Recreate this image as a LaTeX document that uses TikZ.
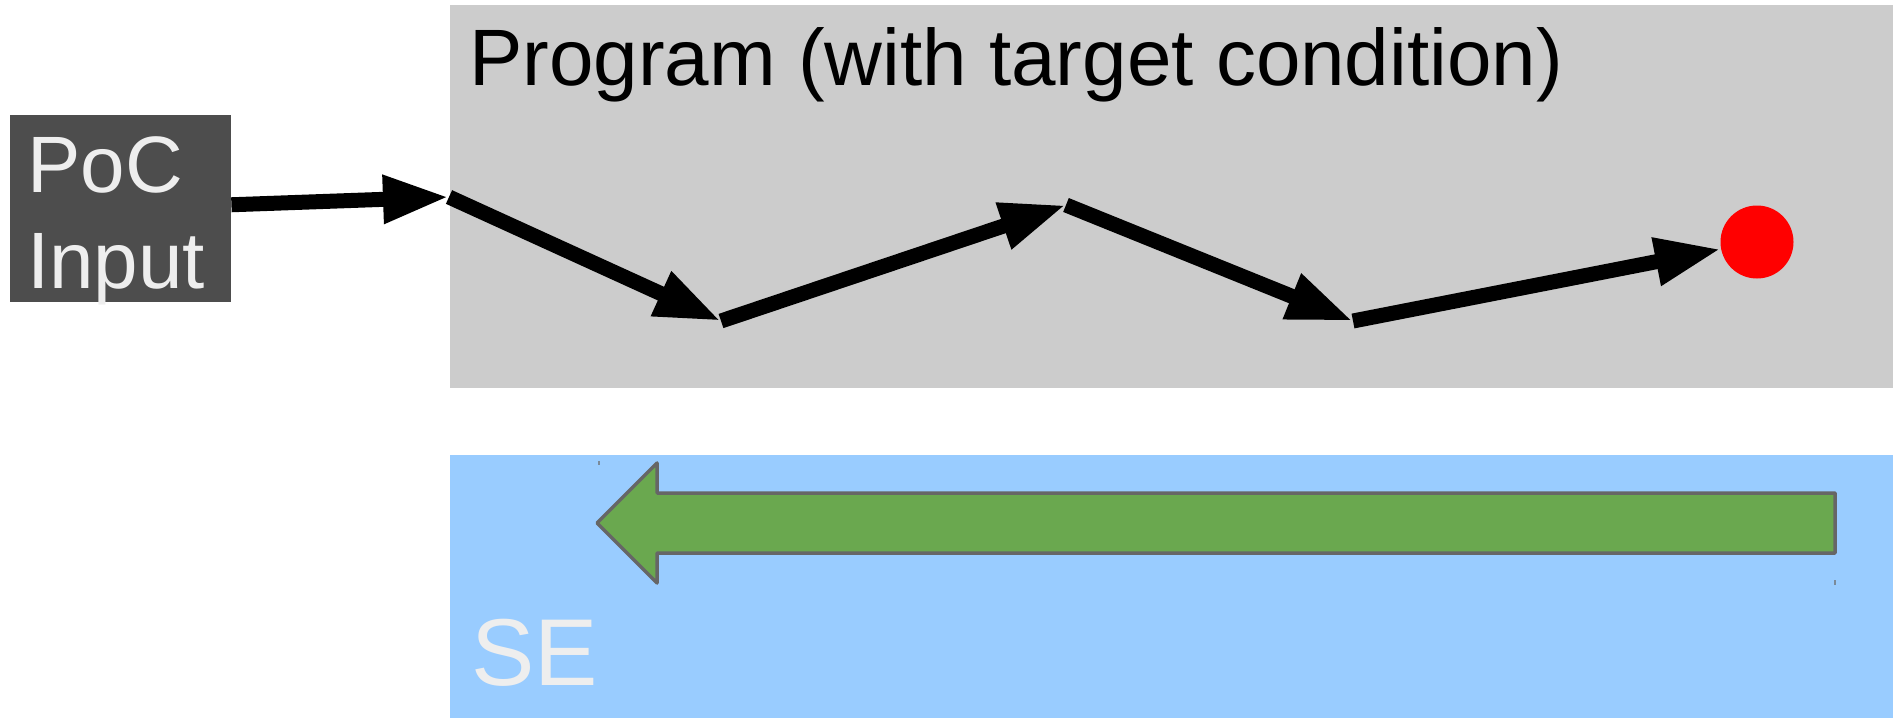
\documentclass[tikz,border=0pt]{standalone}
\usepackage{fontspec}
\setmainfont{Liberation Sans}
\usetikzlibrary{arrows.meta}

\definecolor{progfill}{HTML}{CCCCCC}
\definecolor{sefill}{HTML}{99CCFF}
\definecolor{pocfill}{HTML}{4D4D4D}
\definecolor{lighttext}{HTML}{EEEEEE}
\definecolor{backfill}{HTML}{6AA84F}
\definecolor{backline}{HTML}{666666}
\definecolor{marker}{HTML}{7A8A9A}

\tikzset{
  panel/.style={draw=none, rectangle, inner sep=0pt, anchor=north west},
  label/.style={inner sep=0pt, anchor=base west},
  flow/.style={line width=15pt, -{Triangle[length=66pt,width=45pt]}},
  goal/.style={circle, fill=red, draw=none, minimum size=73pt, inner sep=0pt},
  backarrow/.style={fill=backfill, draw=backline, line width=3.5pt, line join=round},
}

\begin{document}
\begin{tikzpicture}[x=1pt, y=-1pt]
  \useasboundingbox (0,0) rectangle (1898,718);

  % panels
  \node[panel, fill=progfill, minimum width=1443pt, minimum height=383pt] (prog) at (450,5) {};
  \node[panel, fill=sefill, minimum width=1443pt, minimum height=263pt] (se) at (450,455) {};
  \node[panel, fill=pocfill, minimum width=221pt, minimum height=187pt] (poc) at (10,115) {};

  % texts
  \node[label, font=\fontsize{80}{96}\selectfont] (progtitle) at (469,85) {Program (with target condition)};
  \node[label, font=\fontsize{80}{96}\selectfont, text=lighttext] (poc1) at (27,192) {PoC};
  \node[label, font=\fontsize{80}{96}\selectfont, text=lighttext] (poc2) at (27,288) {Input};
  \node[label, font=\fontsize{95}{110}\selectfont, text=lighttext] (setext) at (471,685) {SE};

  % execution path through the program
  \coordinate (p0) at (449,197);
  \coordinate (p1) at (721,321);
  \coordinate (p2) at (1066,205);
  \coordinate (p3) at (1353,321);
  \node[goal] (target) at (1757,242) {};

  \draw[flow] (poc) -- (p0);
  \draw[flow] (p0) -- (p1);
  \draw[flow] (p1) -- (p2);
  \draw[flow] (p2) -- (p3);
  \draw[flow] (p3) -- (target);

  % backward direction of the symbolic execution
  \draw[backarrow] (597,523) -- (657,463) -- (657,493) -- (1835,493)
    -- (1835,553) -- (657,553) -- (657,583) -- cycle;
  \fill[marker] (598,461) rectangle (599.5,465);
  \fill[marker] (1834,580) rectangle (1836,585);
\end{tikzpicture}
\end{document}
